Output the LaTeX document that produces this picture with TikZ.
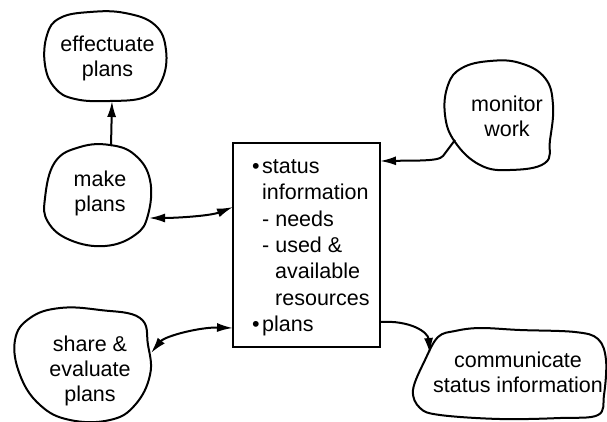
\documentclass[tikz,border=0pt]{standalone}
\usepackage{fontspec}
\setmainfont{Liberation Sans}
\usetikzlibrary{arrows.meta}
\begin{document}
\begin{tikzpicture}[x=1pt,y=-1pt,
  blob/.style={line width=2pt, line join=round},
  tipa/.tip={Latex[length=16pt,width=9pt]},
  arr/.style={line width=2pt,-tipa},
  darr/.style={line width=2pt,tipa-tipa},
  lbl/.style={align=center, font=\fontsize{21.5}{25}\selectfont, inner sep=0pt}]
\useasboundingbox (0,0) rectangle (607,421);

% blobs
\draw[blob] plot[smooth cycle, tension=0.7] coordinates {(47,35) (60,18) (90,12) (125,13) (155,25) (166,50) (162,80) (145,97) (110,101) (75,99) (55,88) (45,65)};
\draw[blob] plot[smooth cycle, tension=0.7] coordinates {(45,198) (55,162) (80,147) (110,145) (135,155) (150,180) (148,215) (135,235) (105,246) (70,240) (48,222)};
\draw[blob] plot[smooth cycle, tension=0.7] coordinates {(448,85) (462,68) (490,61) (520,63) (545,78) (553,105) (550,140) (545,163) (510,170) (480,165) (455,142) (445,115)};
\draw[blob] plot[smooth cycle, tension=0.7] coordinates {(15,340) (30,318) (60,308) (100,310) (140,318) (148,345) (150,375) (135,405) (110,420) (70,420) (40,405) (20,375)};
\draw[blob] plot[smooth cycle, tension=0.6] coordinates {(438,337) (455,331) (480,328) (520,330) (575,332) (598,339) (606,360) (604,395) (598,415) (560,418) (500,419) (440,415) (420,408) (413,390) (425,360)};

% labels
\node[lbl] (eff) at (107.5,58.5) {effectuate\\plans};
\node[lbl] (make) at (100,193.5) {make\\plans};
\node[lbl] (mon) at (507,116) {monitor\\work};
\node[lbl] (share) at (90,371) {share \&\\evaluate\\plans};
\node[lbl] (comm) at (518,372) {communicate\\status information};

% central box
\node[draw, line width=2pt, minimum width=147pt, minimum height=204pt, inner sep=0pt] (box) at (306.5,245) {};
\node[anchor=north west, inner sep=0pt, align=left, font=\fontsize{21.5}{26.3}\selectfont] (boxtxt) at (252,159.5)
 {\makebox[10pt][l]{\textbullet}status\\
  \hspace*{10pt}information\\
  \hspace*{10pt}- needs\\
  \hspace*{10pt}- used \&\\
  \hspace*{23pt}available\\
  \hspace*{23pt}resources\\
  \makebox[10pt][l]{\textbullet}plans};

% connector end points
\coordinate (mkTop) at (111,146);
\coordinate (efBot) at (112,101);
\coordinate (mkR) at (149,218);
\coordinate (bxL1) at (233,207);
\coordinate (shR) at (151,353);
\coordinate (bxL2) at (233,328);
\coordinate (monL) at (455,140);
\coordinate (bxR1) at (380,161);
\coordinate (bxR2) at (380,322);
\coordinate (cmL) at (430,354);

% connectors
\draw[arr] (mkTop) -- (efBot);
\draw[darr] (mkR) .. controls (175,218) and (210,216) .. (bxL1);
\draw[darr] (shR) .. controls (165,336) and (200,327) .. (bxL2);
\draw[arr] (monL) -- (443,156) .. controls (440,159) and (435,160) .. (420,160.5) -- (bxR1);
\draw[arr] (bxR2) .. controls (410,320) and (428,332) .. (cmL);
\end{tikzpicture}
\end{document}
